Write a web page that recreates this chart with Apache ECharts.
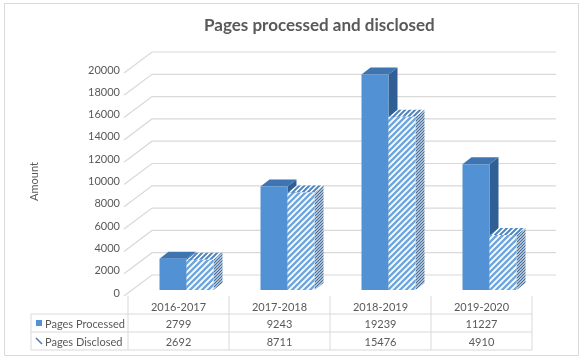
<!DOCTYPE html>
<html>
<head>
<meta charset="utf-8">
<script src="https://cdn.jsdelivr.net/npm/echarts@6/dist/echarts.min.js"></script>
<style>html,body{margin:0;padding:0;background:#fff}#c{width:583px;height:361px}</style>
</head>
<body>
<div id="c"></div>
<script>
const categories = ['2016-2017', '2017-2018', '2018-2019', '2019-2020'];
const processed = [2799, 9243, 19239, 11227];
const disclosed = [2692, 8711, 15476, 4910];
const seriesNames = ['Pages Processed', 'Pages Disclosed'];
const titleText = 'Pages processed and disclosed';
const yAxisName = 'Amount';
const yMin = 0, yMax = 20000, yStep = 2000;

const FONT = 'Lato';
const TXT = '#595959';
const GRID = '#d9d9d9';

function stripes(color, p, lw) {
  const c = document.createElement('canvas');
  c.width = p; c.height = p;
  const g = c.getContext('2d');
  g.fillStyle = '#fff'; g.fillRect(0, 0, p, p);
  g.strokeStyle = color; g.lineWidth = lw;
  g.beginPath();
  g.moveTo(-1, p + 1); g.lineTo(p + 1, -1);
  g.moveTo(-2, 2); g.lineTo(2, -2);
  g.moveTo(p - 2, p + 2); g.lineTo(p + 2, p - 2);
  g.stroke();
  return { image: c, repeat: 'repeat' };
}
const patFront = stripes('#6ea6dd', 6, 2.4);
const patTop = stripes('#4f86c0', 5, 2);
const patSide = stripes('#47709c', 3, 1.3);

const DX = 9, DY = 7, BW = 27;
function bar3d(which) {
  return function (params, api) {
    const idx = api.value(0), v = api.value(1);
    const base = api.coord([idx, 0]);
    const top = api.coord([idx, v]);
    const x0 = which === 0 ? base[0] - BW : base[0];
    const yt = top[1], yb = base[1];
    const styles = which === 0
      ? { front: '#5291d4', top: '#3e74b0', side: '#2f5f94' }
      : { front: patFront, top: patTop, side: patSide };
    return {
      type: 'group',
      children: [
        { type: 'polygon', shape: { points: [[x0 + BW, yt], [x0 + BW + DX, yt - DY], [x0 + BW + DX, yb - DY], [x0 + BW, yb]] }, style: { fill: styles.side } },
        { type: 'polygon', shape: { points: [[x0, yt], [x0 + DX, yt - DY], [x0 + BW + DX, yt - DY], [x0 + BW, yt]] }, style: { fill: styles.top } },
        { type: 'rect', shape: { x: x0, y: yt, width: BW, height: yb - yt }, style: { fill: styles.front } }
      ]
    };
  };
}

const ticks = [];
for (let t = yMin; t <= yMax; t += yStep) ticks.push([0, t]);

const chart = echarts.init(document.getElementById('c'), null, { renderer: 'canvas' });
const option = {
  backgroundColor: '#fff',
  animation: false,
  title: {
    text: titleText, left: 199, top: 12,
    textStyle: { fontFamily: FONT, fontSize: 17, fontWeight: 'bold', color: TXT }
  },
  grid: [
    { left: 128, right: 51, top: 70, bottom: 68 },
    { left: 136, right: 43, top: 66, bottom: 71 }
  ],
  xAxis: [
    { type: 'category', gridIndex: 0, data: categories, show: false },
    { type: 'category', gridIndex: 1, data: categories, show: false }
  ],
  yAxis: [
    {
      type: 'value', gridIndex: 0, min: yMin, max: yMax, interval: yStep,
      name: yAxisName, nameLocation: 'middle', nameGap: 88,
      nameTextStyle: { fontFamily: FONT, fontSize: 11, color: TXT },
      axisLine: { show: false }, axisTick: { show: false }, splitLine: { show: false },
      axisLabel: { fontFamily: FONT, fontSize: 11, color: TXT, margin: 8, formatter: v => String(v) }
    },
    { type: 'value', gridIndex: 1, min: yMin, max: yMax, interval: yStep, show: false, splitLine: { show: false } }
  ],
  series: [
    {
      type: 'custom', xAxisIndex: 0, yAxisIndex: 0, z: 1, silent: true,
      data: ticks,
      renderItem: function (params, api) {
        const p = api.coord([0, api.value(1)]);
        const x = params.coordSys.x, w = params.coordSys.width;
        return {
          type: 'polyline',
          shape: { points: [[x - 4, p[1] + 3], [x + 24, p[1] - 18], [x + 24 + w, p[1] - 18]] },
          style: { stroke: GRID, lineWidth: 1.2, fill: null }
        };
      }
    },
    {
      name: seriesNames[0], type: 'custom', xAxisIndex: 1, yAxisIndex: 1, z: 2,
      data: processed.map((v, i) => [i, v]), renderItem: bar3d(0)
    },
    {
      name: seriesNames[1], type: 'custom', xAxisIndex: 1, yAxisIndex: 1, z: 3,
      data: disclosed.map((v, i) => [i, v]), renderItem: bar3d(1)
    }
  ]
};
chart.setOption(option);

// data table beneath the plot
const g = [];
const colW = chart.convertToPixel({ xAxisIndex: 0 }, categories[1]) - chart.convertToPixel({ xAxisIndex: 0 }, categories[0]);
const xs = categories.map(c => chart.convertToPixel({ xAxisIndex: 0 }, c));
const xL = xs[0] - colW / 2, xR = xs[xs.length - 1] + colW / 2;
const y0 = 296, y1 = 314, y2 = 332, y3 = 350, xT = 31;
const line = (x1, yA, x2, yB) => g.push({ type: 'line', shape: { x1, y1: yA, x2, y2: yB }, style: { stroke: GRID, lineWidth: 1 }, silent: true });
line(xT, y1, xR, y1); line(xT, y2, xR, y2); line(xT, y3, xR, y3);
line(xT, y1, xT, y3);
for (let i = 0; i <= categories.length; i++) line(xL + i * colW, y0, xL + i * colW, y3);
const txt = (text, x, y, align) => g.push({ type: 'text', x, y, style: { text, fill: TXT, font: '11px ' + FONT, textAlign: align || 'center', textVerticalAlign: 'middle' }, silent: true });
categories.forEach((c, i) => {
  txt(c, xs[i], (y0 + y1) / 2 + 2);
  txt(String(processed[i]), xs[i], (y1 + y2) / 2 + 1);
  txt(String(disclosed[i]), xs[i], (y2 + y3) / 2 + 1);
});
txt(seriesNames[0], 45, (y1 + y2) / 2 + 1, 'left');
txt(seriesNames[1], 45, (y2 + y3) / 2 + 1, 'left');
g.push({ type: 'rect', shape: { x: 36, y: (y1 + y2) / 2 - 3, width: 6, height: 6 }, style: { fill: '#5291d4' }, silent: true });
g.push({ type: 'line', shape: { x1: 36, y1: (y2 + y3) / 2 - 3, x2: 42, y2: (y2 + y3) / 2 + 3 }, style: { stroke: '#4f7fb5', lineWidth: 1.6 }, silent: true });
// outer chart border
g.push({ type: 'rect', shape: { x: 4.5, y: 3.5, width: 574, height: 352 }, style: { fill: null, stroke: '#d9d9d9', lineWidth: 1 }, silent: true });
chart.setOption({ graphic: g });
</script>
</body>
</html>
